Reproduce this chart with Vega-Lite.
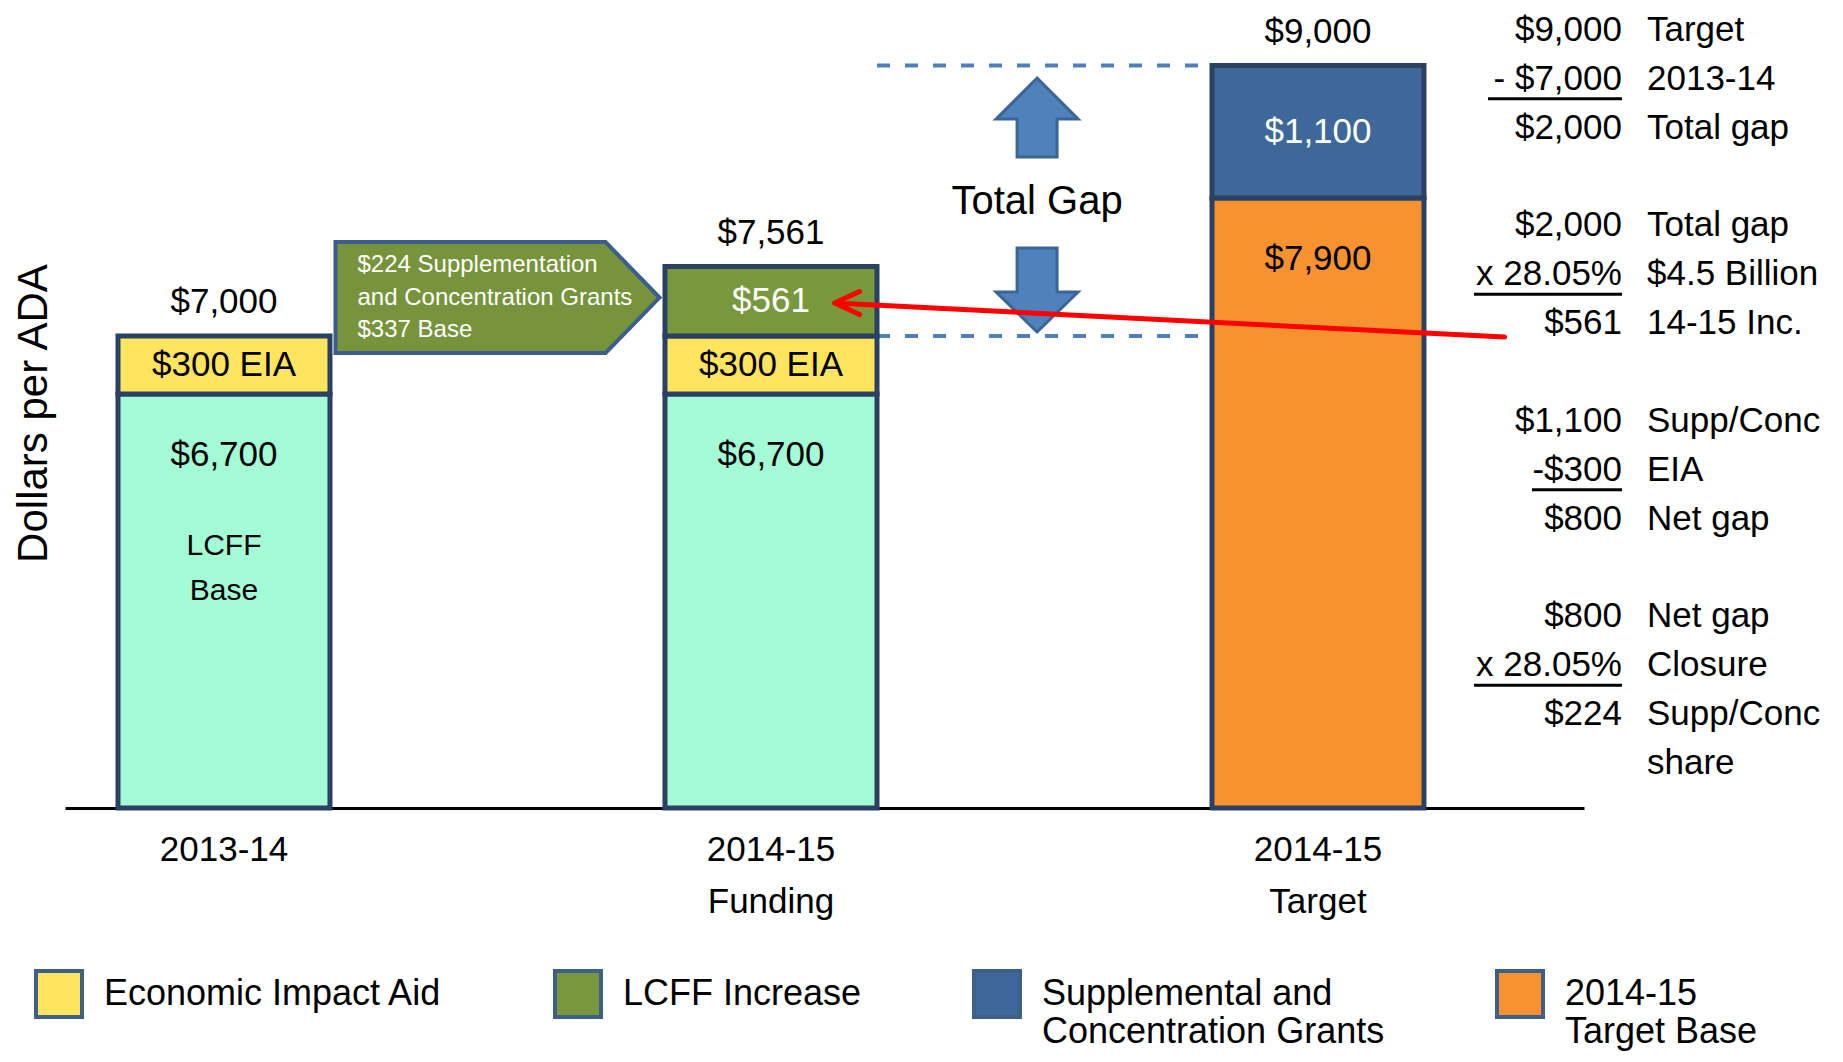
{
  "$schema": "https://vega.github.io/schema/vega-lite/v6.json",
  "width": 1519,
  "height": 808,
  "autosize": {"type": "none"},
  "padding": {"left": 65, "top": 0, "right": 259, "bottom": 254},
  "background": "white",
  "config": {
    "view": {"stroke": null},
    "font": "Liberation Sans, Arial, sans-serif",
    "text": {"font": "Liberation Sans, Arial, sans-serif", "fontSize": 35, "color": "black"},
    "axis": {"labelFont": "Liberation Sans, Arial, sans-serif"},
    "axisX": {"labelAngle": 0, "labelAlign": "center", "labelBaseline": "top"},
    "legend": {"labelFont": "Liberation Sans, Arial, sans-serif"}
  },
  "datasets": {
    "bars": [
      {"bar": "2013-14", "component": "LCFF Base", "from": 0, "to": 6700, "label": "$6,700"},
      {"bar": "2013-14", "component": "Economic Impact Aid", "from": 6700, "to": 7000, "label": "$300 EIA"},
      {"bar": "2014-15 Funding", "component": "LCFF Base", "from": 0, "to": 6700, "label": "$6,700"},
      {"bar": "2014-15 Funding", "component": "Economic Impact Aid", "from": 6700, "to": 7000, "label": "$300 EIA"},
      {"bar": "2014-15 Funding", "component": "LCFF Increase", "from": 7000, "to": 7561, "label": "$561"},
      {"bar": "2014-15 Target", "component": "2014-15 Target Base", "from": 0, "to": 7900, "label": "$7,900"},
      {"bar": "2014-15 Target", "component": "Supplemental and Concentration Grants", "from": 7900, "to": 9000, "label": "$1,100"}
    ],
    "gap": [{"level": 7000}, {"level": 9000}],
    "notes": [
      {"line": 0, "num": "$9,000", "label": "Target"},
      {"line": 1, "num": "- $7,000", "label": "2013-14"},
      {"line": 2, "num": "$2,000", "label": "Total gap"},
      {"line": 4, "num": "$2,000", "label": "Total gap"},
      {"line": 5, "num": "x 28.05%", "label": "$4.5 Billion"},
      {"line": 6, "num": "$561", "label": "14-15 Inc."},
      {"line": 8, "num": "$1,100", "label": "Supp/Conc"},
      {"line": 9, "num": "-$300", "label": "EIA"},
      {"line": 10, "num": "$800", "label": "Net gap"},
      {"line": 12, "num": "$800", "label": "Net gap"},
      {"line": 13, "num": "x 28.05%", "label": "Closure"},
      {"line": 14, "num": "$224", "label": "Supp/Conc"},
      {"line": 15, "num": "", "label": "share"}
    ]
  },
  "layer": [
    {
      "layer": [
        {
          "data": {"name": "gap"},
          "mark": {"type": "rule", "color": "#4F81BD", "strokeWidth": 4, "strokeDash": [13, 15]},
          "encoding": {
            "x": {"datum": "2014-15 Funding", "type": "nominal", "bandPosition": 1},
            "x2": {"datum": "2014-15 Target"},
            "y": {"field": "level", "type": "quantitative"}
          }
        },
        {
          "data": {"name": "bars"},
          "mark": {"type": "bar", "stroke": "#2A4163", "strokeWidth": 5},
          "encoding": {
            "x": {
              "field": "bar", "type": "nominal",
              "scale": {"type": "band", "domain": ["2013-14", "gapA", "2014-15 Funding", "gapB", "2014-15 Target"], "paddingInner": 0.2249, "paddingOuter": 0.3894, "align": 0.2488},
              "axis": {"title": null, "ticks": false, "domain": true, "domainColor": "black", "domainWidth": 3, "grid": false, "bandPosition": 0.5, "labelFontSize": 35, "labelColor": "black", "labelPadding": 24, "labelLineHeight": 52, "labelAngle": 0, "labelAlign": "center", "labelBaseline": "top", "labelOverlap": false, "labelBound": false, "labelExpr": "indexof(datum.value, 'gap') == 0 ? '' : split(datum.value, ' ')"}
            },
            "y": {
              "field": "to", "type": "quantitative",
              "scale": {"type": "linear", "domain": [0, 6700, 7000, 7561, 7900, 9000], "range": [808, 394, 336, 266.5, 198, 65.5], "nice": false, "zero": false},
              "axis": {"title": "Dollars per ADA", "labels": false, "ticks": false, "domain": false, "grid": false, "titleFont": "Liberation Sans, Arial, sans-serif", "titleFontSize": 42, "titleFontWeight": "normal", "titleColor": "black", "titlePadding": 10, "titleY": 413}
            },
            "y2": {"field": "from"},
            "color": {
              "field": "component", "type": "nominal",
              "scale": {"domain": ["Economic Impact Aid", "LCFF Increase", "Supplemental and Concentration Grants", "2014-15 Target Base", "LCFF Base"], "range": ["#FFE45E", "#79983D", "#3D6899", "#F6922F", "#A3FCD5"]},
              "legend": {
                "orient": "none", "legendX": -31, "legendY": 969, "direction": "horizontal", "columns": 4, "columnPadding": 104,
                "values": ["Economic Impact Aid", "LCFF Increase", "Supplemental and Concentration Grants", "2014-15 Target Base"],
                "title": null, "symbolType": "square", "symbolSize": 2116, "symbolStrokeColor": "#3E5F8A", "symbolStrokeWidth": 4,
                "labelFontSize": 36, "labelColor": "black", "labelOffset": 20, "labelLimit": 600, "labelBaseline": "middle", "padding": 0,
                "labelExpr": "datum.label == 'Supplemental and Concentration Grants' ? ['Supplemental and', 'Concentration Grants'] : datum.label == '2014-15 Target Base' ? ['2014-15', 'Target Base'] : [datum.label, '']",
                "encode": {
                  "symbols": {"update": {"stroke": {"value": "#3E5F8A"}, "strokeWidth": {"value": 4}}}
                }
              }
            }
          }
        },
        {
          "data": {"name": "bars"},
          "transform": [
            {"filter": {"field": "component", "oneOf": ["Economic Impact Aid", "LCFF Increase", "Supplemental and Concentration Grants"]}},
            {"fold": ["from", "to"], "as": ["end", "value"]},
            {"aggregate": [{"op": "mean", "field": "value", "as": "mid"}], "groupby": ["bar", "component", "label"]}
          ],
          "mark": {"type": "text", "baseline": "middle", "fontSize": 35},
          "encoding": {
            "x": {"field": "bar", "type": "nominal"},
            "y": {"field": "mid", "type": "quantitative"},
            "text": {"field": "label"},
            "color": {"condition": {"test": "datum.component == 'Economic Impact Aid'", "value": "black"}, "value": "white"}
          }
        },
        {
          "data": {"name": "bars"},
          "transform": [{"filter": {"field": "component", "oneOf": ["LCFF Base", "2014-15 Target Base"]}}],
          "mark": {"type": "text", "baseline": "alphabetic", "fontSize": 35, "dy": 72, "color": "black"},
          "encoding": {
            "x": {"field": "bar", "type": "nominal"},
            "y": {"field": "to", "type": "quantitative"},
            "text": {"field": "label"}
          }
        },
        {
          "data": {"name": "bars"},
          "transform": [{"filter": "datum.bar == '2013-14' && datum.component == 'LCFF Base'"}],
          "mark": {"type": "text", "baseline": "top", "fontSize": 30, "dy": 137, "lineHeight": 45, "color": "black"},
          "encoding": {
            "x": {"field": "bar", "type": "nominal"},
            "y": {"field": "to", "type": "quantitative"},
            "text": {"value": ["LCFF", "Base"]}
          }
        },
        {
          "data": {"name": "bars"},
          "transform": [{"aggregate": [{"op": "max", "field": "to", "as": "total"}], "groupby": ["bar"]}],
          "mark": {"type": "text", "baseline": "alphabetic", "fontSize": 35, "dy": -23, "color": "black"},
          "encoding": {
            "x": {"field": "bar", "type": "nominal"},
            "y": {"field": "total", "type": "quantitative"},
            "text": {"field": "total", "type": "quantitative", "format": "$,.0f"}
          }
        },
        {
          "data": {"values": [{}]},
          "mark": {"type": "point", "shape": "M-1,-0.3426L0.667,-0.3426L1,0L0.667,0.3426L-1,0.3426Z", "size": 104976, "filled": true, "fill": "#77933C", "stroke": "#3B5E8C", "strokeWidth": 4, "opacity": 1},
          "encoding": {
            "x": {"datum": "gapA", "type": "nominal"},
            "y": {"datum": 7310, "type": "quantitative"}
          }
        },
        {
          "data": {"values": [{}]},
          "mark": {"type": "text", "align": "left", "baseline": "middle", "fontSize": 24, "lineHeight": 32.5, "dx": -140, "dy": -32.5, "color": "white"},
          "encoding": {
            "x": {"datum": "gapA", "type": "nominal"},
            "y": {"datum": 7310, "type": "quantitative"},
            "text": {"value": ["$224 Supplementation", "and Concentration Grants", "$337 Base"]}
          }
        },
        {
          "data": {"values": [{}]},
          "mark": {"type": "text", "baseline": "middle", "fontSize": 40, "color": "black"},
          "encoding": {
            "x": {"datum": "gapB", "type": "nominal", "bandPosition": 0.465},
            "y": {"datum": 7880, "type": "quantitative"},
            "text": {"value": "Total Gap"}
          }
        },
        {
          "data": {"values": [{}]},
          "mark": {"type": "point", "shape": "M0,-0.963L1,0.037L0.488,0.037L0.488,0.963L-0.488,0.963L-0.488,0.037L-1,0.037Z", "size": 6724, "filled": true, "fill": "#4F81BD", "stroke": "#3A6595", "strokeWidth": 3, "opacity": 1},
          "encoding": {
            "x": {"datum": "gapB", "type": "nominal", "bandPosition": 0.465},
            "y": {"datum": 8568, "type": "quantitative"}
          }
        },
        {
          "data": {"values": [{}]},
          "mark": {"type": "point", "shape": "M-0.488,-1.024L0.488,-1.024L0.488,0.049L1,0.049L0,1.024L-1,0.049L-0.488,0.049Z", "size": 6724, "filled": true, "fill": "#4F81BD", "stroke": "#3A6595", "strokeWidth": 3, "opacity": 1},
          "encoding": {
            "x": {"datum": "gapB", "type": "nominal", "bandPosition": 0.465},
            "y": {"datum": 7371, "type": "quantitative"}
          }
        },
        {
          "data": {"values": [{}]},
          "mark": {"type": "point", "shape": "M2,0.1015L0,0M0.0746,-0.0343L0,0L0.0746,0.0343", "size": 448900, "filled": false, "color": "#FF0000", "stroke": "#FF0000", "strokeWidth": 5, "strokeCap": "round", "strokeJoin": "round", "opacity": 1},
          "encoding": {
            "x": {"datum": "2014-15 Funding", "type": "nominal", "bandPosition": 0.8},
            "y": {"datum": 7266, "type": "quantitative"}
          }
        }
      ]
    },
    {
      "data": {"name": "notes"},
      "layer": [
        {
          "mark": {"type": "text", "align": "right", "baseline": "middle", "fontSize": 35, "color": "black"},
          "encoding": {
            "x": {"datum": "num", "type": "nominal", "scale": {"type": "point", "domain": ["num", "label"], "range": [1557, 1582], "padding": 0}, "axis": null},
            "y": {"field": "line", "type": "quantitative", "scale": {"domain": [0, 15], "range": [30, 763], "nice": false, "zero": false}, "axis": null},
            "text": {"field": "num"}
          }
        },
        {
          "mark": {"type": "text", "align": "left", "baseline": "middle", "fontSize": 35, "color": "black"},
          "encoding": {
            "x": {"datum": "label", "type": "nominal"},
            "y": {"field": "line", "type": "quantitative"},
            "text": {"field": "label"}
          }
        },
        {
          "transform": [{"filter": "datum.num == '- $7,000'"}],
          "mark": {"type": "rule", "color": "black", "strokeWidth": 3, "xOffset": -134, "yOffset": 20},
          "encoding": {
            "x": {"datum": "num", "type": "nominal"},
            "x2": {"datum": "num"},
            "y": {"field": "line", "type": "quantitative"}
          }
        },
        {
          "transform": [{"filter": "datum.num == 'x 28.05%'"}],
          "mark": {"type": "rule", "color": "black", "strokeWidth": 3, "xOffset": -148, "yOffset": 20},
          "encoding": {
            "x": {"datum": "num", "type": "nominal"},
            "x2": {"datum": "num"},
            "y": {"field": "line", "type": "quantitative"}
          }
        },
        {
          "transform": [{"filter": "datum.num == '-$300'"}],
          "mark": {"type": "rule", "color": "black", "strokeWidth": 3, "xOffset": -90, "yOffset": 20},
          "encoding": {
            "x": {"datum": "num", "type": "nominal"},
            "x2": {"datum": "num"},
            "y": {"field": "line", "type": "quantitative"}
          }
        }
      ]
    }
  ],
  "resolve": {"scale": {"x": "independent", "y": "independent"}}
}
